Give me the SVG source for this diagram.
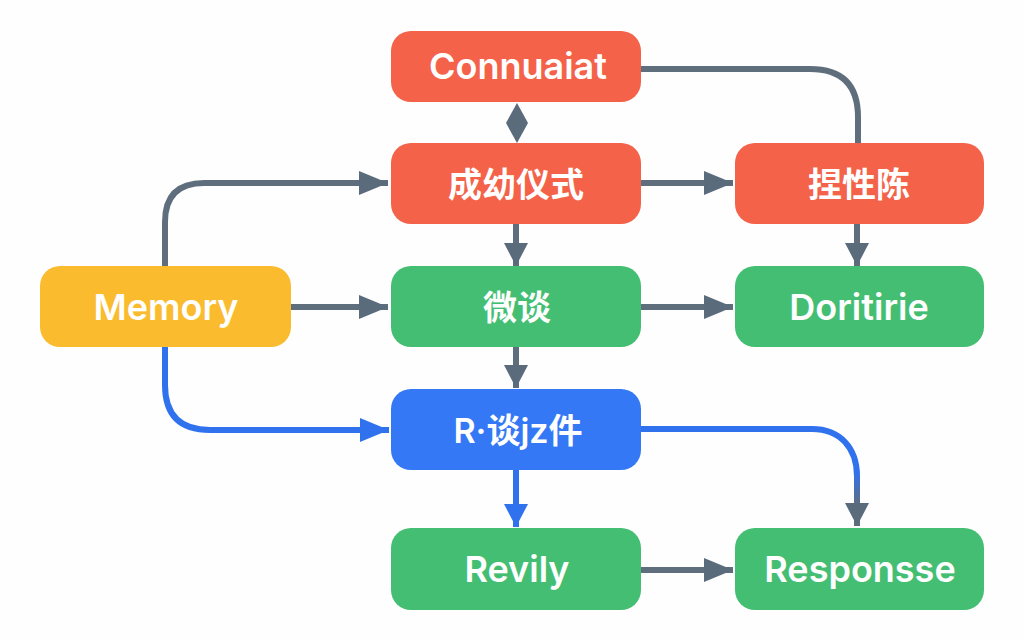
<svg xmlns="http://www.w3.org/2000/svg" width="1024" height="640" viewBox="0 0 1024 640">
<style>
.n{stroke:none}
.red{fill:#F4624A}.green{fill:#44BE73}.yellow{fill:#FABC2E}.blue{fill:#3478F6}
text{fill:#fff;font-family:Inter,"Noto Sans CJK SC",sans-serif;font-weight:600;font-size:36px;text-anchor:middle;dominant-baseline:central}
text.cjk{font-size:34px}
.c{fill:none;stroke-width:6}
.g{stroke:#5F6E7C}.b{stroke:#3072EE}
</style>
<defs>
<marker id="ag" markerUnits="userSpaceOnUse" markerWidth="29" markerHeight="24" refX="29" refY="12" orient="auto"><path d="M0 0L29 12L0 24Z" fill="#5A6B7C"/></marker>
<marker id="ab" markerUnits="userSpaceOnUse" markerWidth="29" markerHeight="24" refX="29" refY="12" orient="auto"><path d="M0 0L29 12L0 24Z" fill="#3072EE"/></marker>
<marker id="vg" markerUnits="userSpaceOnUse" markerWidth="23" markerHeight="24" refX="23" refY="12" orient="auto"><path d="M0 0L23 12L0 24Z" fill="#5A6B7C"/></marker>
<marker id="vb" markerUnits="userSpaceOnUse" markerWidth="23" markerHeight="24" refX="23" refY="12" orient="auto"><path d="M0 0L23 12L0 24Z" fill="#3072EE"/></marker>
<linearGradient id="bg" gradientUnits="userSpaceOnUse" x1="0" y1="472" x2="0" y2="505"><stop offset="0" stop-color="#3072EE"/><stop offset="1" stop-color="#5F6E7C"/></linearGradient>
</defs>
<rect width="1024" height="640" fill="#FEFEFE"/>
<g id="connectors">
<path class="c g" d="M641 69H810Q858 69 858 117V143"/>
<path class="c g" d="M165 266V222Q165 183 204 183H388" marker-end="url(#ag)"/>
<path class="c g" d="M291 307H388" marker-end="url(#ag)"/>
<path class="c b" d="M165 347V385Q165 430 210 430H389" marker-end="url(#ab)"/>
<path class="c g" d="M641 183H733" marker-end="url(#ag)"/>
<path class="c g" d="M641 307H733" marker-end="url(#ag)"/>
<path class="c g" d="M641 570H733" marker-end="url(#ag)"/>
<path class="c g" d="M516 224V266" marker-end="url(#vg)"/>
<path class="c g" d="M516 347V388" marker-end="url(#vg)"/>
<path class="c g" d="M857 224V266" marker-end="url(#vg)"/>
<path class="c b" d="M516 470V527" marker-end="url(#vb)"/>
<path class="c" stroke="url(#bg)" d="M641 429H812C840 429 857 448 857 476V526" marker-end="url(#vg)"/>
<path d="M517 103L528 123L517 143L506 123Z" fill="#5A6B7C"/>
</g>
<g id="node-connuaiat"><rect class="n red" x="391" y="31" width="250" height="71" rx="20"/><text x="518" y="66">Connuaiat</text></g>
<g id="node-success"><rect class="n red" x="391" y="143" width="250" height="81" rx="20"/><text class="cjk" x="516" y="184">成幼仪式</text></g>
<g id="node-cheng"><rect class="n red" x="735" y="143" width="249" height="81" rx="20"/><text class="cjk" x="859" y="184">捏性陈</text></g>
<g id="node-memory"><rect class="n yellow" x="40" y="266" width="251" height="81" rx="20"/><text x="166" y="307">Memory</text></g>
<g id="node-weitan"><rect class="n green" x="391" y="266" width="250" height="81" rx="20"/><text class="cjk" x="517" y="307">微谈</text></g>
<g id="node-doritirie"><rect class="n green" x="735" y="266" width="249" height="81" rx="20"/><text x="859" y="307">Doritirie</text></g>
<g id="node-rtan"><rect class="n blue" x="391" y="389" width="250" height="81" rx="20"/><text class="cjk" x="518" y="430">R·谈jz件</text></g>
<g id="node-revily"><rect class="n green" x="391" y="528" width="250" height="82" rx="20"/><text x="517" y="569">Revily</text></g>
<g id="node-responsse"><rect class="n green" x="735" y="528" width="249" height="82" rx="20"/><text x="860" y="569">Responsse</text></g>
</svg>
